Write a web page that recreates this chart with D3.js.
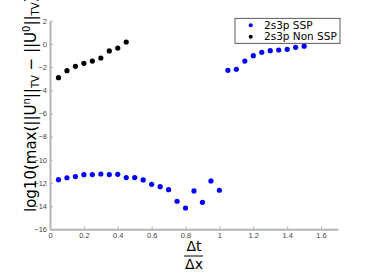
<!DOCTYPE html>
<html>
<head>
<meta charset="utf-8">
<script src="https://cdn.jsdelivr.net/npm/d3@7"></script>
<style>
  body { margin: 0; background: #fff; }
  svg { display: block; font-family: "DejaVu Sans", sans-serif; }
</style>
</head>
<body>
<svg id="chart" width="374" height="279"></svg>
<script>
"use strict";

// dt/dx values and log10 TV growth
const sspX = [0.05, 0.1, 0.15, 0.2, 0.25, 0.3, 0.35, 0.4, 0.45, 0.5, 0.55, 0.6, 0.65, 0.7, 0.75, 0.8,
              0.85, 0.9, 0.95, 1.0, 1.05, 1.1, 1.15, 1.2, 1.25, 1.3, 1.35, 1.4, 1.45, 1.5];
const sspY = [-11.72, -11.55, -11.45, -11.29, -11.28, -11.23, -11.28, -11.26, -11.54, -11.54, -11.74,
              -12.12, -12.32, -12.58, -13.58, -14.16, -12.69, -13.67, -11.83, -12.63,
              -2.28, -2.19, -1.48, -1.02, -0.73, -0.59, -0.53, -0.47, -0.30, -0.2];
const nonSspX = [0.05, 0.1, 0.15, 0.2, 0.25, 0.3, 0.35, 0.4, 0.45];
const nonSspY = [-2.92, -2.31, -1.94, -1.68, -1.48, -1.22, -0.61, -0.36, 0.16];

const xTicks = [0, 0.2, 0.4, 0.6, 0.8, 1, 1.2, 1.4, 1.6];
const yTicks = [2, 0, -2, -4, -6, -8, -10, -12, -14, -16];

const seriesNames = ["2s3p SSP", "2s3p Non SSP"];
const seriesColors = ["#0000ff", "#000000"];

const plotLeft = 50, plotRight = 338, plotTop = 20.7, plotBottom = 229.3;

const svg = d3.select("#chart");

const xScale = d3.scaleLinear().domain([0, 1.7]).range([plotLeft, plotRight]);
const yScale = d3.scaleLinear().domain([-16, 2]).range([plotBottom, plotTop]);

const axisColor = "#b4b4b4";

// x axis (ticks point inward)
const xAxis = svg.append("g")
    .attr("transform", `translate(0,${plotBottom})`)
    .call(d3.axisTop(xScale).tickValues(xTicks).tickSize(3).tickSizeOuter(0)
        .tickFormat(d3.format("~g")));
xAxis.select(".domain").attr("stroke", axisColor).attr("stroke-width", 2);
xAxis.selectAll(".tick line").attr("stroke", axisColor);
xAxis.selectAll(".tick text")
    .attr("y", 6).attr("dy", "0.35em")
    .attr("font-size", 7.5).attr("fill", "#444");

// y axis
const yAxis = svg.append("g")
    .attr("transform", `translate(${plotLeft},0)`)
    .call(d3.axisRight(yScale).tickValues(yTicks).tickSize(3).tickSizeOuter(0));
yAxis.select(".domain").attr("stroke", axisColor).attr("stroke-width", 2);
yAxis.selectAll(".tick line").attr("stroke", axisColor);
yAxis.selectAll(".tick text")
    .attr("x", -3).attr("text-anchor", "end")
    .attr("font-size", 7.5).attr("fill", "#444");

// points
const sspData = sspX.map((x, i) => ({x: x, y: sspY[i]}));
const nonSspData = nonSspX.map((x, i) => ({x: x, y: nonSspY[i]}));

[sspData, nonSspData].forEach(function(data, k) {
    svg.append("g").selectAll("circle")
        .data(data)
        .join("circle")
            .attr("cx", d => xScale(d.x))
            .attr("cy", d => yScale(d.y))
            .attr("r", 2.6)
            .attr("fill", seriesColors[k]);
});

// legend
const legend = svg.append("g").attr("transform", "translate(235,18.3)");
legend.append("rect")
    .attr("width", 105).attr("height", 25)
    .attr("fill", "#fff").attr("stroke", "#333").attr("stroke-width", 0.8);
seriesNames.forEach(function(name, k) {
    const yy = 7 + k * 11.5;
    legend.append("circle")
        .attr("cx", 15.7).attr("cy", yy).attr("r", 2)
        .attr("fill", seriesColors[k]);
    legend.append("text")
        .attr("x", 29).attr("y", yy).attr("dy", "0.35em")
        .attr("font-size", 10.5).attr("fill", "#000")
        .text(name);
});

// y label
const ylab = svg.append("text")
    .attr("transform", "translate(36,212) rotate(-90)")
    .attr("font-size", 15).attr("fill", "#000");
ylab.append("tspan").text("log10(max(||U");
ylab.append("tspan").attr("dy", -6).attr("font-size", 10).text("n");
ylab.append("tspan").attr("dy", 6).text("||");
ylab.append("tspan").attr("dy", 3).attr("font-size", 10).text("TV");
ylab.append("tspan").attr("dy", -3).text(" \u2212 ||U");
ylab.append("tspan").attr("dy", -6).attr("font-size", 10).text("0");
ylab.append("tspan").attr("dy", 6).text("||");
ylab.append("tspan").attr("dy", 3).attr("font-size", 10).text("TV");
ylab.append("tspan").attr("dy", -3).text("))");

// x label as a fraction
svg.append("text").attr("x", 194).attr("y", 250.5)
    .attr("text-anchor", "middle").attr("font-size", 14).text("\u0394t");
svg.append("line")
    .attr("x1", 184).attr("x2", 203).attr("y1", 256).attr("y2", 256)
    .attr("stroke", "#000").attr("stroke-width", 1);
svg.append("text").attr("x", 194).attr("y", 268.5)
    .attr("text-anchor", "middle").attr("font-size", 14).text("\u0394x");
</script>
</body>
</html>
